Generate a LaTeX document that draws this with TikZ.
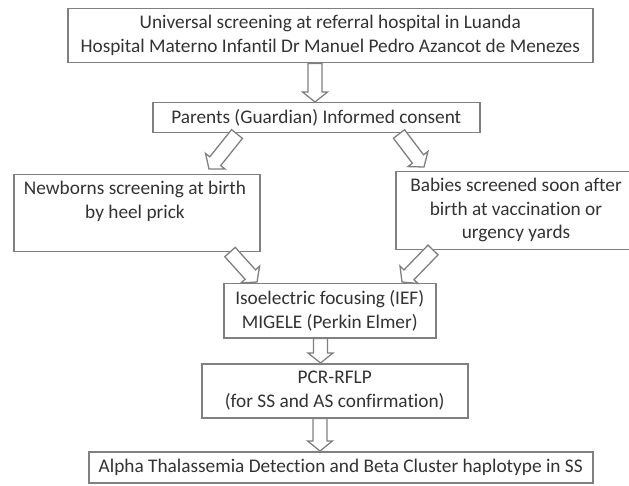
\documentclass[tikz,border=0pt]{standalone}
\usepackage{fontspec}
\setmainfont{Carlito}[Ligatures=NoCommon]
\usetikzlibrary{calc}
\definecolor{edge}{HTML}{808080}
\definecolor{ink}{HTML}{333333}
\tikzset{
  x=1pt, y=-1pt,
  box/.style={draw=edge, line width=1.5pt, fill=white, inner sep=0pt, anchor=north west},
  lbl/.style={text=ink, font=\fontsize{19.3}{23.8}\selectfont, align=center, inner sep=0pt},
  blockarrow/.style={draw=edge, line width=1.3pt, fill=white, line join=miter},
}
\newcommand\barrow[2]{%
  \coordinate (hb) at ($(#2)!10pt!(#1)$);
  \draw[blockarrow]
    ($(#1)!7pt!90:(#2)$) -- ($(hb)!7pt!90:(#2)$) -- ($(hb)!12.5pt!90:(#2)$) --
    (#2) --
    ($(hb)!12.5pt!-90:(#2)$) -- ($(hb)!7pt!-90:(#2)$) -- ($(#1)!7pt!-90:(#2)$) -- cycle;
}
\begin{document}
\begin{tikzpicture}
\useasboundingbox[fill=white] (0,0) rectangle (629,486);

% boxes
\node[box, lbl, minimum width=525pt, minimum height=54pt] (top) at (67,8)
  {Universal screening at referral hospital in Luanda\\Hospital Materno Infantil Dr Manuel Pedro Azancot de Menezes};
\node[box, lbl, minimum width=327pt, minimum height=30pt] (parents) at (152,102)
  {Parents (Guardian) Informed consent};
\node[box, minimum width=246pt, minimum height=77pt] (newborns) at (13,174) {};
\node[lbl] (newbornstext) at (135,201)
  {Newborns screening at birth\\by heel prick};
\node[box, minimum width=245pt, minimum height=78pt] (babies) at (395,171) {};
\node[lbl] (babiestext) at (516,210)
  {Babies screened soon after\\birth at vaccination or\\urgency yards};
\node[box, lbl, minimum width=212pt, minimum height=54pt] (ief) at (223,283)
  {Isoelectric focusing (IEF)\\MIGELE (Perkin Elmer)};
\node[box, lbl, minimum width=266pt, minimum height=54pt] (pcr) at (201,363)
  {PCR-RFLP\\(for SS and AS confirmation)};
\node[box, lbl, minimum width=504pt, minimum height=31pt] (alpha) at (88,451)
  {Alpha Thalassemia Detection and Beta Cluster haplotype in SS};

% arrow end points
\coordinate (a1s) at (top.south -| 315,0);
\coordinate (a1e) at (parents.north -| 315,0);
\coordinate (a2s) at (237,134);
\coordinate (a2e) at (209,169);
\coordinate (a3s) at (399,134);
\coordinate (a3e) at (424,167);
\coordinate (a4s) at (230,252);
\coordinate (a4e) at (257,282);
\coordinate (a5s) at (433,250);
\coordinate (a5e) at (402,282);
\coordinate (a6s) at (ief.south -| 320.5,0);
\coordinate (a6e) at (pcr.north -| 320.5,0);
\coordinate (a7s) at (pcr.south -| 320,0);
\coordinate (a7e) at (alpha.north -| 320,0);

\barrow{a1s}{a1e}
\barrow{a2s}{a2e}
\barrow{a3s}{a3e}
\barrow{a4s}{a4e}
\barrow{a5s}{a5e}
\barrow{a6s}{a6e}
\barrow{a7s}{a7e}
\end{tikzpicture}
\end{document}
